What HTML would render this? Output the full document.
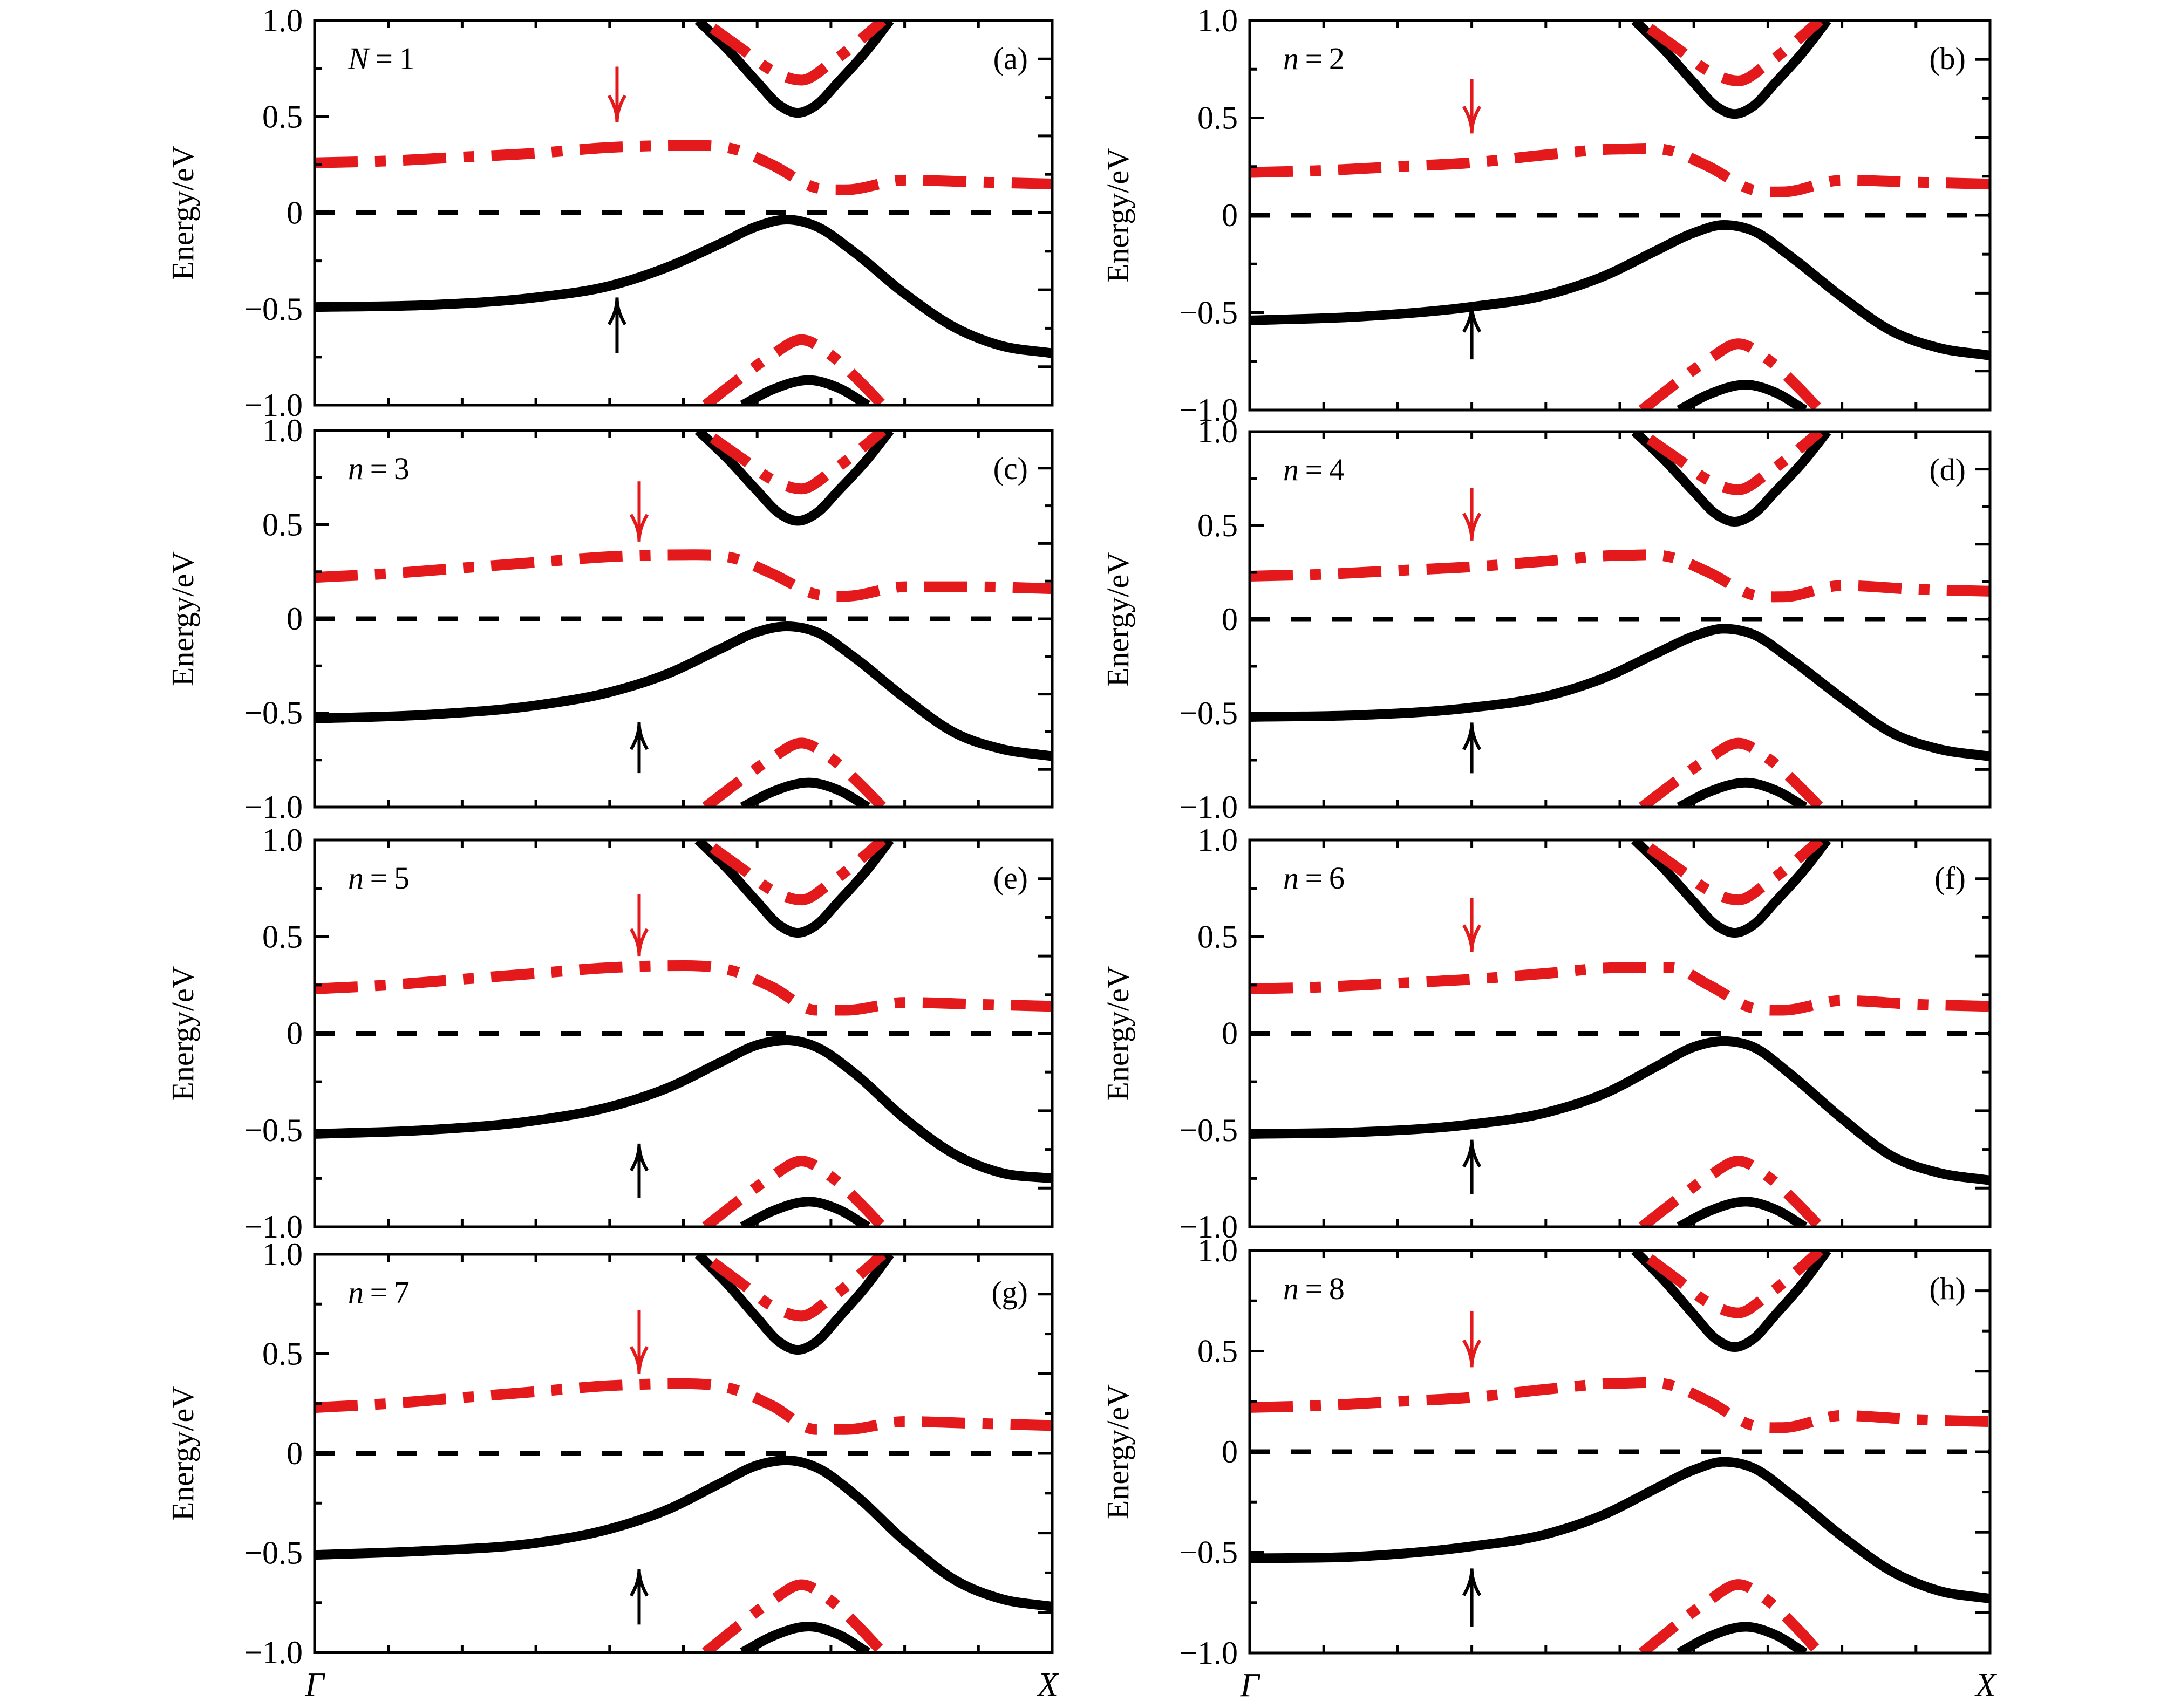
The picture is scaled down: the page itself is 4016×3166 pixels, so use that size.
<!DOCTYPE html>
<html><head><meta charset="utf-8"><style>
html,body{margin:0;padding:0;background:#fff;}
svg{display:block;}
text{font-family:"Liberation Serif",serif;fill:#000;}
</style></head><body>
<svg id="fig" width="4016" height="3166" viewBox="0 0 4016 3166" xmlns="http://www.w3.org/2000/svg"></svg>
<script>
// ---- data ----
const panelIds = ['a','b','c','d','e','f','g','h'];
const panelTitles = ['N = 1','n = 2','n = 3','n = 4','n = 5','n = 6','n = 7','n = 8'];
const yTickValues = [1.0, 0.5, 0, -0.5, -1.0];
const yTickLabels = ['1.0','0.5','0','\u22120.5','\u22121.0'];
// valence band (black) sampled at valenceX
const valenceX = [0,0.15,0.3,0.4,0.48,0.55,0.6,0.64,0.68,0.73,0.8,0.87,0.93,1];
const vb_a = [-0.49,-0.48,-0.44,-0.38,-0.28,-0.16,-0.07,-0.035,-0.07,-0.2,-0.42,-0.6,-0.69,-0.73];
const vb_b = [-0.54,-0.52,-0.47,-0.41,-0.31,-0.18,-0.09,-0.05,-0.08,-0.21,-0.42,-0.6,-0.68,-0.72];
const vb_c = [-0.53,-0.51,-0.46,-0.39,-0.29,-0.16,-0.07,-0.04,-0.07,-0.2,-0.42,-0.61,-0.69,-0.73];
const vb_d = [-0.52,-0.51,-0.47,-0.41,-0.31,-0.18,-0.09,-0.05,-0.08,-0.21,-0.42,-0.61,-0.69,-0.73];
const vb_e = [-0.52,-0.5,-0.45,-0.38,-0.28,-0.15,-0.06,-0.035,-0.07,-0.2,-0.44,-0.63,-0.72,-0.75];
const vb_f = [-0.52,-0.51,-0.47,-0.41,-0.31,-0.17,-0.07,-0.04,-0.07,-0.21,-0.44,-0.64,-0.72,-0.76];
const vb_g = [-0.51,-0.49,-0.45,-0.38,-0.28,-0.15,-0.06,-0.035,-0.07,-0.2,-0.44,-0.64,-0.73,-0.77];
const vb_h = [-0.53,-0.52,-0.47,-0.41,-0.31,-0.18,-0.09,-0.05,-0.08,-0.21,-0.42,-0.6,-0.69,-0.73];
// mid red band
const midX = [0,0.1,0.2,0.3,0.4,0.5,0.57,0.62,0.68,0.72,0.8,0.9,1];
const mid_a = [0.26,0.27,0.29,0.31,0.34,0.35,0.33,0.25,0.13,0.12,0.17,0.16,0.15];
const mid_b = [0.22,0.23,0.25,0.27,0.31,0.34,0.33,0.25,0.13,0.12,0.18,0.17,0.16];
const mid_c = [0.22,0.24,0.27,0.30,0.33,0.34,0.32,0.24,0.13,0.12,0.17,0.17,0.16];
const mid_d = [0.23,0.24,0.26,0.28,0.31,0.34,0.33,0.25,0.13,0.12,0.18,0.16,0.15];
const mid_e = [0.23,0.25,0.28,0.31,0.34,0.35,0.32,0.24,0.12,0.12,0.16,0.15,0.14];
const mid_f = [0.23,0.24,0.26,0.28,0.31,0.34,0.34,0.25,0.13,0.12,0.17,0.15,0.14];
const mid_g = [0.23,0.25,0.28,0.31,0.34,0.35,0.32,0.24,0.12,0.12,0.16,0.15,0.14];
const mid_h = [0.22,0.23,0.25,0.27,0.31,0.34,0.33,0.25,0.13,0.12,0.18,0.16,0.15];
// upper conduction (black), upper red, lower red, lower black
const cbX = [0.52,0.56,0.6,0.63,0.655,0.68,0.71,0.75,0.78];
const cbY = [1.0,0.85,0.68,0.56,0.52,0.56,0.68,0.85,1.0];
const redUpX = [0.54,0.58,0.62,0.66,0.70,0.74,0.77];
const redUpY = [0.96,0.85,0.74,0.69,0.78,0.90,1.0];
const redLowX = [0.53,0.57,0.62,0.66,0.70,0.74,0.77];
const redLowY = [-1.0,-0.88,-0.74,-0.66,-0.74,-0.88,-1.0];
const lowX = [0.58,0.62,0.67,0.71,0.75];
const lowY = [-1.0,-0.92,-0.87,-0.91,-1.0];
// arrows: x, red top, red bottom, black bottom, black top
const arrowX = [0.41,0.30,0.44,0.30,0.44,0.30,0.44,0.30];
const redArrowTop = [0.76,0.70,0.73,0.70,0.72,0.70,0.72,0.70];
const redArrowBot = [0.47,0.42,0.41,0.42,0.40,0.42,0.40,0.42];
const blackArrowBot = [-0.73,-0.74,-0.82,-0.82,-0.85,-0.83,-0.86,-0.87];
const blackArrowTop = [-0.44,-0.46,-0.55,-0.55,-0.57,-0.55,-0.58,-0.58];

const vbs=[vb_a,vb_b,vb_c,vb_d,vb_e,vb_f,vb_g,vb_h];
const mids=[mid_a,mid_b,mid_c,mid_d,mid_e,mid_f,mid_g,mid_h];
const boxes=[[583,1950,38,751],[2316,3688,38,760],[583,1950,798,1496],[2316,3688,800,1496],
             [583,1950,1557,2274],[2316,3688,1557,2274],[583,1950,2325,3063],[2316,3688,2318,3064]];

const NS='http://www.w3.org/2000/svg';
const svg=document.getElementById('fig');
function mk(tag,attrs,parent){const e=document.createElementNS(NS,tag);for(const k in attrs)e.setAttribute(k,attrs[k]);(parent||svg).appendChild(e);return e;}
// smooth cubic Hermite (y as function of x), pixel coords
function pathFrom(pts){
  const n=pts.length, m=new Array(n);
  const d=[];for(let i=0;i<n-1;i++)d.push((pts[i+1][1]-pts[i][1])/(pts[i+1][0]-pts[i][0]));
  m[0]=d[0];m[n-1]=d[n-2];
  for(let i=1;i<n-1;i++){ if(d[i-1]*d[i]<=0) m[i]=0; else {const h0=pts[i][0]-pts[i-1][0],h1=pts[i+1][0]-pts[i][0];m[i]=(d[i-1]*h1+d[i]*h0)/(h0+h1);} }
  let s='M'+pts[0][0]+','+pts[0][1];
  for(let i=0;i<n-1;i++){const h=pts[i+1][0]-pts[i][0];
    s+=' C'+(pts[i][0]+h/3)+','+(pts[i][1]+m[i]*h/3)+' '+(pts[i+1][0]-h/3)+','+(pts[i+1][1]-m[i+1]*h/3)+' '+pts[i+1][0]+','+pts[i+1][1];}
  return s;
}
panelIds.forEach((id,i)=>{
  const [L,R,T,B]=boxes[i];
  const sx=v=>L+v*(R-L), sy=v=>T+(1-v)/2*(B-T);
  const g=mk('g',{});
  
  
  const cp=mk('clipPath',{id:'cp'+id},g); mk('rect',{x:L,y:T,width:R-L,height:B-T},cp);
  const plot=mk('g',{'clip-path':'url(#cp'+id+')'},g);
  const line=(xs,ys,attrs,name)=>{const p=mk('path',Object.assign({d:pathFrom(xs.map((x,k)=>[sx(x),sy(ys[k])])),fill:'none'},attrs),plot);
    
    return p;};
  const redA={stroke:'#e3191c','stroke-width':20,'stroke-dasharray':'80 32 20 32'};
  const blkA={stroke:'#000','stroke-width':18};
  const z=mk('line',{x1:L,x2:R,y1:sy(0),y2:sy(0),stroke:'#000','stroke-width':9,'stroke-dasharray':'38 38'},plot);
  
  
  line(valenceX,vbs[i],blkA,'valence-band');
  line(cbX,cbY,blkA,'conduction-band');
  line(lowX,lowY,blkA,'lower-band');
  line(midX,mids[i],redA,'red-mid-band');
  line(redUpX,redUpY,redA,'red-upper-band');
  line(redLowX,redLowY,redA,'red-lower-band');
  const ax=sx(arrowX[i]);
  const ra=mk('g',{},g);
  
  
  const rt=sy(redArrowTop[i]),rb=sy(redArrowBot[i]);
  mk('line',{x1:ax,x2:ax,y1:rt,y2:rb-4,stroke:'#e3191c','stroke-width':6},ra);
  mk('path',{d:`M${ax-15},${rb-50} Q${ax},${rb-25} ${ax},${rb} Q${ax},${rb-25} ${ax+15},${rb-50}`,fill:'none',stroke:'#e3191c','stroke-width':6},ra);
  const ba=mk('g',{},g);
  
  
  const bt=sy(blackArrowTop[i]),bb=sy(blackArrowBot[i]);
  mk('line',{x1:ax,x2:ax,y1:bb,y2:bt+4,stroke:'#000','stroke-width':6},ba);
  mk('path',{d:`M${ax-15},${bt+50} Q${ax},${bt+25} ${ax},${bt} Q${ax},${bt+25} ${ax+15},${bt+50}`,fill:'none',stroke:'#000','stroke-width':6},ba);
  const fr=mk('rect',{x:L,y:T,width:R-L,height:B-T,fill:'none',stroke:'#000','stroke-width':5},g);
  
  
  for(let k=0;k<=8;k++){const v=1-k*0.25,y=sy(v),len=(k%2===0)?27:13;
    mk('line',{x1:L,x2:L+len,y1:y,y2:y,stroke:'#000','stroke-width':5},g);}
  for(let k=1;k<10;k++){const v=1-k*0.2,y=sy(v),len=(k%2===1)?27:14;
    mk('line',{x1:R-len,x2:R,y1:y,y2:y,stroke:'#000','stroke-width':5},g);}
  for(let k=1;k<10;k++){const x=sx(k/10);
    mk('line',{x1:x,x2:x,y1:T,y2:T+14,stroke:'#000','stroke-width':5},g);
    mk('line',{x1:x,x2:x,y1:B,y2:B-14,stroke:'#000','stroke-width':5},g);}
  yTickValues.forEach((v,k)=>{const t=mk('text',{x:L-22,y:sy(v)+20,'text-anchor':'end','font-size':60},g);
    t.textContent=yTickLabels[k];
    
    });
  const yl=mk('text',{x:0,y:0,'text-anchor':'middle','font-size':58,transform:`translate(${L-225},${(T+B)/2}) rotate(-90)`},g);
  yl.textContent='Energy/eV';
  
  
  const parts=panelTitles[i].split(' = ');
  const tt=mk('text',{x:L+62,y:T+90,'font-size':58},g);
  tt.innerHTML='<tspan font-style="italic">'+parts[0]+'</tspan>\u2009=\u2009'+parts[1];
  
  
  const pl=mk('text',{x:R-45,y:T+90,'text-anchor':'end','font-size':58},g);
  pl.textContent='('+id+')';
  
  
  if(i>=6){
    const gl=mk('text',{x:L,y:B+80,'text-anchor':'middle','font-size':62,'font-style':'italic'},g);
    gl.textContent='\u0393';
    
    
    const xl=mk('text',{x:R-8,y:B+80,'text-anchor':'middle','font-size':62,'font-style':'italic'},g);
    xl.textContent='X';
    
    
  }
});
</script>
</body></html>
